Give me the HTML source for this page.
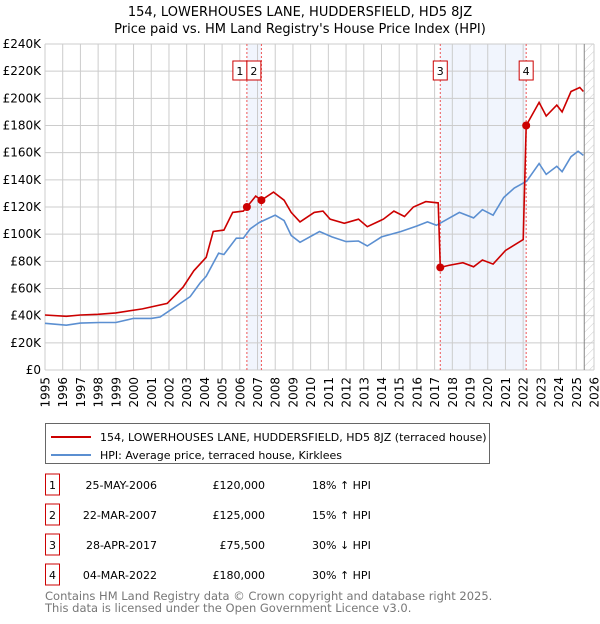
<!DOCTYPE html>
<html><head><meta charset="utf-8"><style>
body{margin:0;background:#fff;font-family:"DejaVu Sans","Liberation Sans",sans-serif;}
svg text{font-family:"DejaVu Sans","Liberation Sans",sans-serif;}
</style></head><body>
<svg id="c" width="600" height="620" xmlns="http://www.w3.org/2000/svg">
<defs><pattern id="hatch" width="6" height="6" patternUnits="userSpaceOnUse" patternTransform="rotate(45)"><line x1="0" y1="0" x2="0" y2="6" stroke="#ccc" stroke-width="1"/></pattern></defs>
<text x="300" y="16" text-anchor="middle" font-size="13">154, LOWERHOUSES LANE, HUDDERSFIELD, HD5 8JZ</text>
<text x="300" y="33" text-anchor="middle" font-size="13">Price paid vs. HM Land Registry's House Price Index (HPI)</text>
<g id="plot"></g>
<g>
<rect x="45.5" y="423.5" width="444" height="40" fill="#fff" stroke="#666"/>
<line x1="51" y1="437" x2="91" y2="437" stroke="#cc0000" stroke-width="2"/>
<text x="100" y="441" font-size="11">154, LOWERHOUSES LANE, HUDDERSFIELD, HD5 8JZ (terraced house)</text>
<line x1="51" y1="455" x2="91" y2="455" stroke="#5b8fd1" stroke-width="2"/>
<text x="100" y="459" font-size="11">HPI: Average price, terraced house, Kirklees</text>
</g>
<g id="table"></g>
<text x="45" y="600" font-size="11.5" fill="#777">Contains HM Land Registry data © Crown copyright and database right 2025.</text>
<text x="45" y="612" font-size="11.5" fill="#777">This data is licensed under the Open Government Licence v3.0.</text>
</svg>
<script>
const hpiYears=[1995,1996.2,1997,1998.1,1999,2000,2001,2001.5,2002.25,2003.2,2003.75,2004.1,2004.8,2005.1,2005.8,2006.2,2006.6,2007.1,2008,2008.5,2008.9,2009.4,2010.5,2011.2,2012.0,2012.7,2013.2,2014,2015.1,2016,2016.6,2017.1,2018.4,2019.2,2019.7,2020.3,2020.9,2021.5,2022.2,2022.9,2023.3,2023.9,2024.2,2024.7,2025.1,2025.4];
const hpiValues=[34.4,33,34.5,35,35,38,38,39,45.6,54,64,69,86,85,97,97,104,108.6,114,110,99,94,102,98,94.5,95,91.3,98,102,106,109,106.5,116,112,118,114,127,134,139,152,144,150,146,157,161,158];
const redYears=[1995,1996.2,1997,1998,1999,2000.5,2001.9,2002.8,2003.4,2004.1,2004.5,2005.1,2005.6,2006.2,2006.4,2006.9,2007.22,2007.9,2008.5,2008.9,2009.4,2010.2,2010.7,2011.1,2011.9,2012.7,2013.2,2014.1,2014.7,2015.3,2015.8,2016.5,2017.2,2017.32,2017.8,2018.6,2019.2,2019.7,2020.3,2021,2022.0,2022.17,2022.9,2023.3,2023.9,2024.2,2024.7,2025.2,2025.4];
const redValues=[40.5,39.5,40.5,41,42,45,49,61,73,83,102,103,116,117,120,128,125,131,125,116,109,116,117,111,108,111,105.5,111,117,113,120,124,123,75.5,77,79,76,81,78,88,96,180,197,187,195,190,205,208,205];
const saleYears=[2006.4,2007.22,2017.32,2022.17];
const saleValues=[120,125,75.5,180];
const saleLabels=["1","2","3","4"];
const yTicks=[0,20,40,60,80,100,120,140,160,180,200,220,240];
const saleDates=["25-MAY-2006","22-MAR-2007","28-APR-2017","04-MAR-2022"];
const salePrices=["£120,000","£125,000","£75,500","£180,000"];
const saleDiffs=["18% ↑ HPI","15% ↑ HPI","30% ↓ HPI","30% ↑ HPI"];

const NS="http://www.w3.org/2000/svg";
const X0=45,X1=594,Y0=370,Y1=44;
const xs=y=>X0+(y-1995)/(2026-1995)*(X1-X0);
const ys=v=>Y0-v/240*(Y0-Y1);
function mk(tag,attrs,parent){const e=document.createElementNS(NS,tag);for(const k in attrs)e.setAttribute(k,attrs[k]);parent.appendChild(e);return e;}
const g=document.getElementById('plot');
// bands
for(let i=0;i<4;i+=2){const r=mk('rect',{x:xs(saleYears[i]),y:Y1,width:xs(saleYears[i+1])-xs(saleYears[i]),height:Y0-Y1,fill:'#eef3fc',opacity:0.8},g);

}
// grid
yTicks.forEach(v=>{const l=mk('line',{x1:X0,x2:X1,y1:ys(v),y2:ys(v),stroke:'#ccc'},g);


const t=mk('text',{x:X0-4,y:ys(v)+4,'text-anchor':'end','font-size':'12'},g);t.textContent=v===0?'£0':'£'+v+'K';

});
for(let yr=1995;yr<=2026;yr++){const l=mk('line',{x1:xs(yr),x2:xs(yr),y1:Y1,y2:Y0,stroke:'#ccc'},g);


const t=mk('text',{x:0,y:0,'text-anchor':'end','font-size':'12',transform:`translate(${xs(yr)+4.5},377) rotate(-90)`},g);t.textContent=yr;

}
// hatch future
const h=mk('rect',{x:xs(2025.45),y:Y1,width:X1-xs(2025.45),height:Y0-Y1,fill:'url(#hatch)'},g);


mk('line',{x1:xs(2025.45),x2:xs(2025.45),y1:Y1,y2:Y0,stroke:'#888'},g);
// sale lines
saleYears.forEach((yr,i)=>{const l=mk('line',{x1:xs(yr),x2:xs(yr),y1:Y1,y2:Y0,stroke:'#e55','stroke-dasharray':'2,2','stroke-width':1},g);

});
// series
function path(xa,va){return xa.map((x,i)=>(i?'L':'M')+xs(x).toFixed(1)+','+ys(va[i]).toFixed(1)).join('');}
const hp=mk('path',{d:path(hpiYears,hpiValues),fill:'none',stroke:'#5b8fd1','stroke-width':1.6},g);


const rp=mk('path',{d:path(redYears,redValues),fill:'none',stroke:'#cc0000','stroke-width':1.6},g);


saleYears.forEach((yr,i)=>{const c=mk('circle',{cx:xs(yr),cy:ys(saleValues[i]),r:4,fill:'#cc0000'},g);


let bx=xs(yr)-7; if(i===0)bx=xs(yr)-14; if(i===1)bx=xs(saleYears[0]);
const b=mk('rect',{x:bx,y:61,width:14,height:19,fill:'#fff',stroke:'#cc0000'},g);


const t=mk('text',{x:bx+7,y:75,'text-anchor':'middle','font-size':'11'},g);t.textContent=saleLabels[i];

});
// table
const tb=document.getElementById('table');
saleLabels.forEach((lab,i)=>{const cy=486+i*30;
const b=mk('rect',{x:45.5,y:cy-12,width:14,height:21,fill:'#fff',stroke:'#cc0000'},tb);


const t0=mk('text',{x:52.5,y:cy+3,'text-anchor':'middle','font-size':'11'},tb);t0.textContent=lab;


const t1=mk('text',{x:157,y:cy+3,'text-anchor':'end','font-size':'11'},tb);t1.textContent=saleDates[i];


const t2=mk('text',{x:265,y:cy+3,'text-anchor':'end','font-size':'11'},tb);t2.textContent=salePrices[i];


const t3=mk('text',{x:312,y:cy+3,'font-size':'11'},tb);t3.textContent=saleDiffs[i];

});
</script>
</body></html>
